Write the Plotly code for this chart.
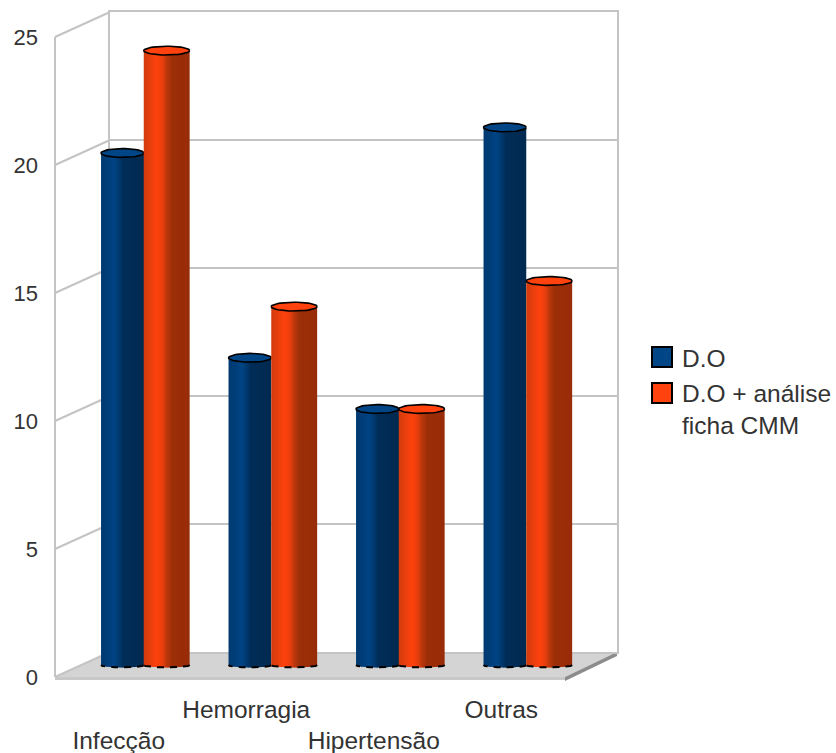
import math
import plotly.graph_objects as go

categories = ["Infecção", "Hemorragia", "Hipertensão", "Outras"]
series_do = [20, 12, 10, 21]
series_cmm = [24, 14, 10, 15]
y_ticks = [0, 5, 10, 15, 20, 25]
name_do = "D.O"
name_cmm = "D.O + análise<br>ficha CMM"
color_do = "#004586"
color_cmm = "#ff420e"
stops_do = [(0, "#003a70"), (0.2, "#003f7c"), (0.3, "#004586"), (0.42, "#003a70"), (0.52, "#002d58"), (1, "#002a50")]
stops_cmm = [(0, "#d23c0d"), (0.2, "#f0400e"), (0.3, "#ff420e"), (0.42, "#e63e0c"), (0.5, "#bb380c"), (0.62, "#9c2e08"), (1, "#992c08")]

W, H = 836, 753
FONT = "Liberation Sans"
TEXT = "#333333"
GRID = "#c4c4c4"


def fx(p):
    return p / W


def fy(p):
    return 1 - p / H


def mix(stops, t):
    for (a, ca), (b, cb) in zip(stops, stops[1:]):
        if a <= t <= b:
            f = (t - a) / (b - a)
            c = [round(int(ca[i:i + 2], 16) * (1 - f) + int(cb[i:i + 2], 16) * f) for i in (1, 3, 5)]
            return "#%02x%02x%02x" % tuple(c)
    return stops[-1][1]


fig = go.Figure()
x_idx = list(range(len(categories)))
N = 26
DEPTH = 2.4 / 25.6
CAP = 4.4 / 25.6


def cylinders(values, left, width, stops, color, name, xa, ya):
    sw = width / N
    for k in range(N):
        t = (k + 0.5) / N
        d = DEPTH * math.sqrt(max(0, 1 - (2 * t - 1) ** 2))
        fig.add_trace(go.Bar(
            x=x_idx, y=[v + d for v in values], base=-d,
            offset=left + k * sw, width=sw * 1.6 if k < N - 1 else sw,
            marker=dict(color=mix(stops, t), line=dict(width=0)),
            xaxis=xa, yaxis=ya, legendgroup=name, showlegend=False, hoverinfo="skip",
        ))
    cap_x, cap_y, low_x, low_y = [], [], [], []
    for i, v in zip(x_idx, values):
        for j in range(49):
            a = 2 * math.pi * j / 48
            cap_x.append(i + left + width / 2 + width / 2 * math.cos(a))
            cap_y.append(v + CAP * math.sin(a))
        cap_x.append(None)
        cap_y.append(None)
        for j in range(25):
            a = math.pi * j / 24
            low_x.append(i + left + width / 2 + width / 2 * math.cos(a))
            low_y.append(-DEPTH * math.sin(a))
        low_x.append(None)
        low_y.append(None)
    fig.add_trace(go.Scatter(
        x=cap_x, y=cap_y, mode="lines", fill="toself", fillcolor=color,
        line=dict(color="black", width=1.6), xaxis=xa, yaxis=ya,
        legendgroup=name, showlegend=False, hoverinfo="skip",
    ))
    fig.add_trace(go.Scatter(
        x=low_x, y=low_y, mode="lines", line=dict(color="black", width=2, dash="7px,6px"),
        xaxis=xa, yaxis=ya, legendgroup=name, showlegend=False, hoverinfo="skip",
    ))


# back wall grid (axes x / y)
fig.add_trace(go.Scatter(x=[0], y=[0], mode="none", xaxis="x", yaxis="y", showlegend=False, hoverinfo="skip"))
# front plane labels (x2 upper row, x3 lower row, y2 values)
fig.add_trace(go.Scatter(x=categories, y=series_do, mode="none", xaxis="x2", yaxis="y2", showlegend=False, hoverinfo="skip"))
fig.add_trace(go.Scatter(x=categories, y=series_do, mode="none", xaxis="x3", yaxis="y2", showlegend=False, hoverinfo="skip"))

cylinders(series_do, -0.335, 0.335, stops_do, color_do, "do", "x4", "y4")
cylinders(series_cmm, 0.0, 0.36, stops_cmm, color_cmm, "cmm", "x5", "y5")

for nm, grp in ((name_do, "do"), (name_cmm, "cmm")):
    fig.add_trace(go.Scatter(
        x=[None], y=[None], mode="markers", name=nm, legendgroup=grp, xaxis="x4", yaxis="y4",
        marker=dict(symbol="square", size=16, color="rgba(0,0,0,0)", line=dict(width=0)),
    ))

BACK_L, BACK_R, BACK_T, BACK_B = 110, 617, 12, 652
FRONT_L, FRONT_R, FRONT_T, FRONT_B = 55, 565, 37, 677
BAR_L, BAR_R = 80, 590
BAR_TOP, BAR_BOT = 12, 680
BAR_ZERO = 665
SCALE = 25.6

cat_axis = dict(
    type="category", categoryorder="array", categoryarray=categories, range=[-0.5, 3.5],
    domain=[fx(FRONT_L), fx(FRONT_R)], showgrid=False, zeroline=False, showline=False, ticks="",
    tickangle=0, tickfont=dict(family=FONT, size=24.5, color=TEXT),
)
bar_range = [(BAR_ZERO - BAR_BOT) / SCALE, (BAR_ZERO - BAR_TOP) / SCALE]
bar_dom = [fy(BAR_BOT), fy(BAR_TOP)]
bar_x = dict(range=[-0.5, 3.5], domain=[fx(BAR_L), fx(BAR_R)], visible=False)
bar_y = dict(range=bar_range, domain=bar_dom, visible=False)

fig.update_layout(
    width=W, height=H, margin=dict(l=0, r=0, t=0, b=0, autoexpand=False), autosize=False,
    paper_bgcolor="white", plot_bgcolor="rgba(0,0,0,0)", barmode="overlay",
    font=dict(family=FONT, color=TEXT),
    xaxis=dict(domain=[fx(BACK_L), fx(BACK_R)], range=[0, 1], showgrid=False, zeroline=False,
               showticklabels=False, ticks="", showline=True, linecolor=GRID, linewidth=2, mirror=True),
    yaxis=dict(domain=[fy(BACK_B), fy(BACK_T)], range=[0, 25], tickvals=y_ticks, showticklabels=False,
               ticks="", showgrid=True, gridcolor=GRID, gridwidth=2, zeroline=False,
               showline=True, linecolor=GRID, linewidth=2, mirror=True),
    xaxis2=dict(anchor="y2", tickvals=["Hemorragia", "Outras"], ticktext=["Hemorragia", "Outras"],
                ticklabelstandoff=15, **cat_axis),
    xaxis3=dict(anchor="y2", overlaying="x2", tickvals=["Infecção", "Hipertensão"],
                ticktext=["Infecção", "Hipertensão"], ticklabelstandoff=46, **cat_axis),
    yaxis2=dict(anchor="x2", domain=[fy(FRONT_B), fy(FRONT_T)], range=[0, 25], tickvals=y_ticks,
                showgrid=False, zeroline=False, showline=False, ticks="", ticklabelstandoff=16,
                tickfont=dict(family=FONT, size=22, color=TEXT)),
    xaxis4=dict(anchor="y4", **bar_x), yaxis4=dict(anchor="x4", **bar_y),
    xaxis5=dict(anchor="y5", **bar_x), yaxis5=dict(anchor="x5", **bar_y),
    legend=dict(x=fx(642), y=fy(335), xanchor="left", yanchor="top", bgcolor="rgba(0,0,0,0)",
                font=dict(family=FONT, size=24.5, color=TEXT), itemsizing="trace", tracegroupgap=0,
                borderwidth=0),
    showlegend=True,
)


def poly(points, fill):
    path = "M" + "L".join(f"{fx(a):.5f},{fy(b):.5f}" for a, b in points) + "Z"
    return dict(type="path", path=path, xref="paper", yref="paper", fillcolor=fill, line=dict(width=0), layer="below")


def seg(x0, y0, x1, y1):
    return dict(type="line", xref="paper", yref="paper", x0=fx(x0), y0=fy(y0), x1=fx(x1), y1=fy(y1),
                line=dict(color=GRID, width=2), layer="below")


def swatch(top, fill):
    return dict(type="rect", xref="paper", yref="paper", x0=fx(652), x1=fx(672), y0=fy(top), y1=fy(top + 20),
                fillcolor=fill, line=dict(color="black", width=2), layer="above")


shapes = [
    poly([(FRONT_L, FRONT_B), (BACK_L, BACK_B), (BACK_R, BACK_B), (FRONT_R, FRONT_B)], "#d4d4d4"),
    poly([(FRONT_L, FRONT_B), (FRONT_R, FRONT_B), (FRONT_R, FRONT_B + 3), (FRONT_L, FRONT_B + 3)], "#c8c8c8"),
    poly([(FRONT_R, FRONT_B), (BACK_R, BACK_B), (BACK_R, BACK_B + 4), (FRONT_R, FRONT_B + 4)], "#8c8c8c"),
    seg(FRONT_L, FRONT_T, FRONT_L, FRONT_B),
    swatch(347, color_do),
    swatch(383, color_cmm),
]
for v in y_ticks:
    h = 25.6 * v
    shapes.append(seg(FRONT_L, FRONT_B - h, BACK_L, BACK_B - h))
fig.update_layout(shapes=shapes)

fig.write_html("out.html", config=dict(displayModeBar=False), post_script="document.body.style.margin='0';")
